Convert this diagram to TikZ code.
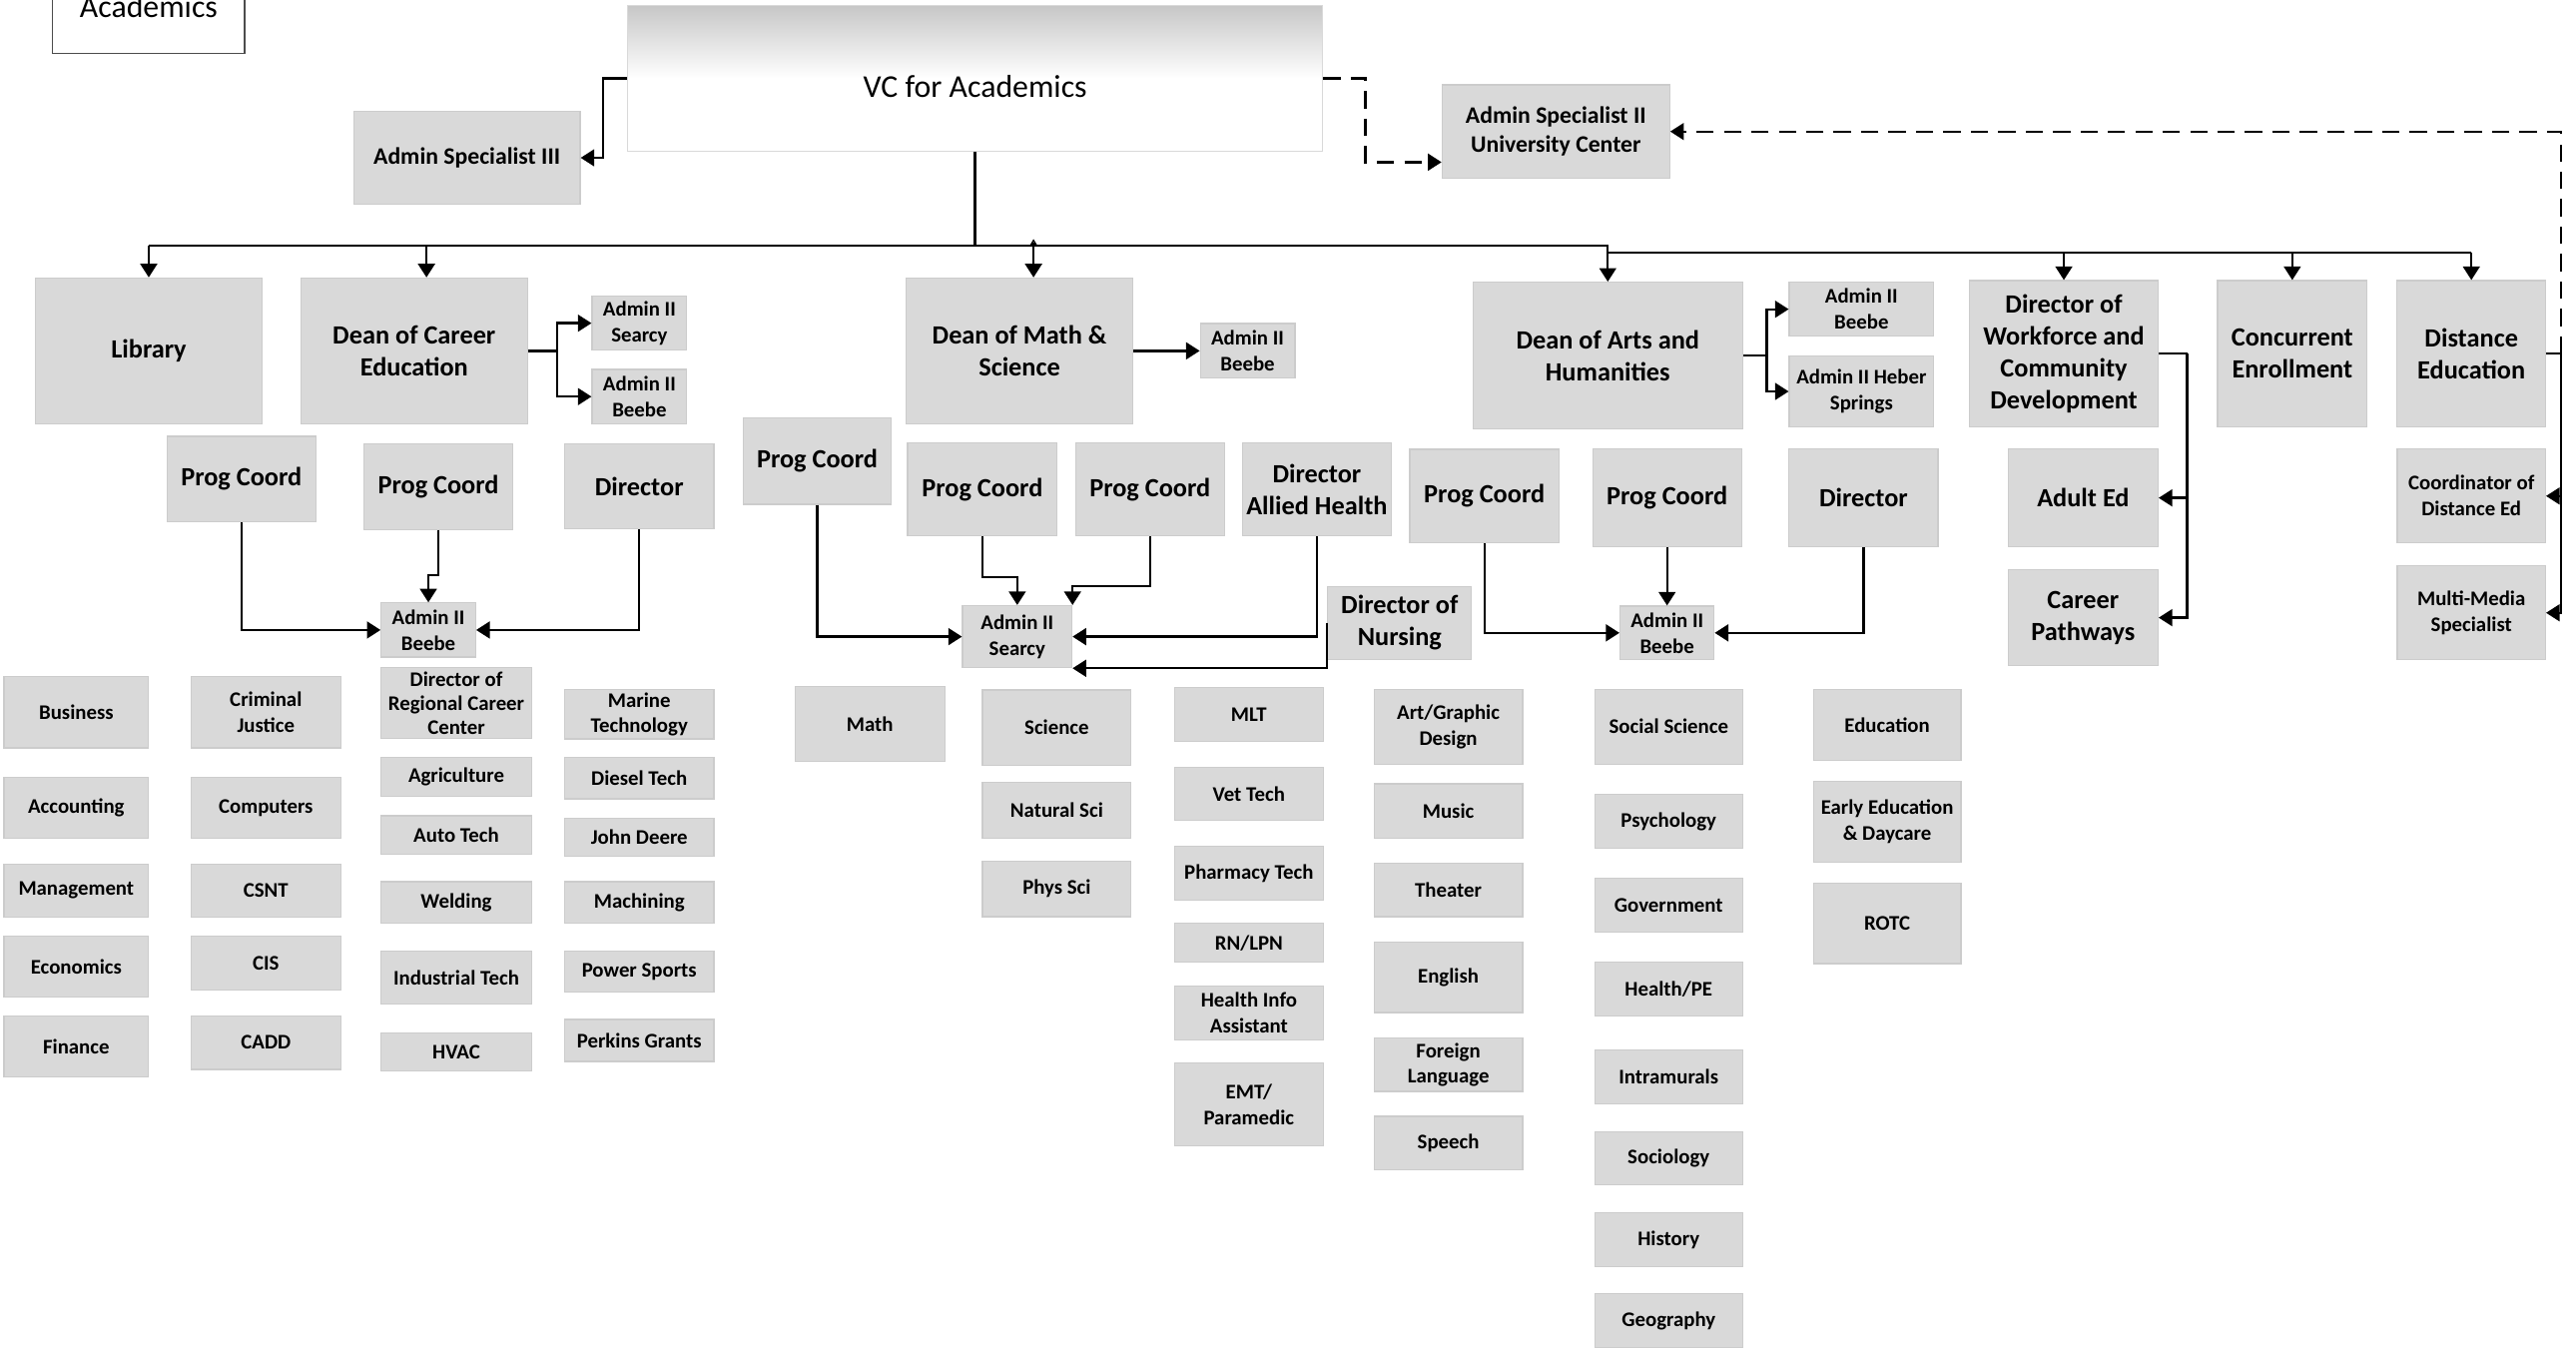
\documentclass[tikz,border=0pt]{standalone}
\usepackage{fontspec}
\setmainfont{Carlito}
\usetikzlibrary{arrows.meta}

\definecolor{boxgray}{RGB}{217,217,217}
\definecolor{boxline}{RGB}{204,204,204}

\tikzset{
  orgbox/.style={draw=boxline, fill=boxgray, line width=0.4pt, inner sep=1pt, align=center,
    font=\bfseries\fontsize{9.1}{11}\selectfont},
  leafbox/.style={orgbox, font=\bfseries\fontsize{7.2}{8.8}\selectfont},
  admbox/.style={orgbox, font=\bfseries\fontsize{7.2}{9}\selectfont},
  specbox/.style={orgbox, font=\bfseries\fontsize{8.2}{9.8}\selectfont},
  sz/.style 2 args={minimum width=#1*0.2mm, minimum height=#2*0.2mm},
  wire/.style={draw, line width=0.8pt},
  link/.style={wire, -{Triangle[length=4.7pt,width=5.8pt]}},
  dashlink/.style={link, dash pattern=on 6pt off 3.5pt},
}

\begin{document}
\begin{tikzpicture}[x=0.2mm, y=-0.2mm]
  \useasboundingbox (0,0) rectangle (1568,824);
  \clip (0,0) rectangle (1568,824);

  % top row
  \node[draw=black!70, fill=white, line width=0.5pt, sz={117}{80}, anchor=south] (acad) at (90.5,32.8) {};
  \node[anchor=base, font=\fontsize{11}{13}\selectfont] (acadtxt) at (90.5,10.5) {Academics};
  \node[draw=black!15, line width=0.4pt, top color=black!22, bottom color=white, middle color=white,
    sz={423.3}{88.8}, text height=12.8pt, text depth=0pt, font=\fontsize{11}{13}\selectfont] (vc) at (593.55,47.8) {VC for Academics};
  \node[specbox, sz={137.8}{56.7}] (asp3) at (284.2,96.05) {Admin Specialist III};
  \node[specbox, sz={138.5}{56.7}] (asp2) at (947.05,80.05) {Admin Specialist II\\University Center};

  % deans and directors
  \node[orgbox, sz={137.9}{88.7}] (lib) at (90.55,213.55) {Library};
  \node[orgbox, sz={137.8}{88.7}] (dce) at (252.1,213.55) {Dean of Career\\Education};
  \node[admbox, sz={57.6}{32.8}] (cse) at (389.2,196.7) {Admin II\\Searcy};
  \node[admbox, sz={57.6}{33}] (cbe) at (389.2,241.4) {Admin II\\Beebe};
  \node[orgbox, sz={138.1}{88.7}] (dms) at (620.55,213.55) {Dean of Math \&\\Science};
  \node[admbox, sz={57.6}{33}] (mbe) at (759.4,213.4) {Admin II\\Beebe};
  \node[orgbox, sz={164.3}{89.1}] (dah) at (978.65,216.35) {Dean of Arts and\\Humanities};
  \node[admbox, sz={87.9}{32.8}] (abe) at (1133.05,188.2) {Admin II\\Beebe};
  \node[admbox, sz={87.9}{42.9}] (ahs) at (1133.05,238.25) {Admin II Heber\\Springs};
  \node[orgbox, sz={114.7}{88.9}] (dwf) at (1256.25,215.25) {Director of\\Workforce and\\Community\\Development};
  \node[orgbox, sz={91}{88.9}] (cce) at (1395.3,215.25) {Concurrent\\Enrollment};
  \node[orgbox, sz={90.6}{88.9}] (dde) at (1504.3,215.25) {Distance\\Education};

  % coordinators
  \node[orgbox, sz={90.7}{52.1}] (cpc1) at (146.95,291.65) {Prog Coord};
  \node[orgbox, sz={90.7}{52.1}] (cpc2) at (266.85,296.25) {Prog Coord};
  \node[orgbox, sz={90.8}{52}] (cdir) at (389.1,296) {Director};
  \node[admbox, sz={57.5}{32.9}] (cadm) at (260.75,383.45) {Admin II\\Beebe};
  \node[orgbox, sz={90.3}{52.3}] (mpc0) at (497.45,280.75) {Prog Coord};
  \node[orgbox, sz={91.1}{56.9}] (mpc1) at (597.95,297.85) {Prog Coord};
  \node[orgbox, sz={90.8}{56.9}] (mpc2) at (700,297.85) {Prog Coord};
  \node[orgbox, sz={90.7}{56.9}] (mdah) at (801.55,297.85) {Director\\Allied Health};
  \node[orgbox, sz={87.5}{44.4}] (mdn) at (851.95,379) {Director of\\Nursing};
  \node[admbox, sz={66.6}{37.8}] (madm) at (619.2,387.5) {Admin II\\Searcy};
  \node[orgbox, sz={90.9}{56.9}] (apc1) at (903.55,301.95) {Prog Coord};
  \node[orgbox, sz={90.7}{59.3}] (apc2) at (1014.75,303.05) {Prog Coord};
  \node[orgbox, sz={90.6}{59.3}] (adir) at (1134.3,303.05) {Director};
  \node[admbox, sz={57.3}{32.6}] (aadm) at (1014.75,385.2) {Admin II\\Beebe};
  \node[orgbox, sz={91.2}{59.3}] (wad) at (1268,303.05) {Adult Ed};
  \node[orgbox, sz={91.2}{58.5}] (wcp) at (1268,375.95) {Career\\Pathways};
  \node[admbox, sz={90.2}{57}] (dcoord) at (1504.3,301.9) {Coordinator of\\Distance Ed};
  \node[admbox, sz={90.2}{57}] (dmm) at (1504.3,373) {Multi-Media\\Specialist};

  % career education programs
  \node[leafbox, sz={88}{43.4}] (business) at (46.4,433.5) {Business};
  \node[leafbox, sz={88}{37.4}] (accounting) at (46.4,491.6) {Accounting};
  \node[leafbox, sz={88}{32.5}] (management) at (46.4,542.05) {Management};
  \node[leafbox, sz={88}{37.2}] (economics) at (46.4,588.3) {Economics};
  \node[leafbox, sz={88}{37.2}] (finance) at (46.4,636.9) {Finance};
  \node[leafbox, sz={91.1}{43.4}] (crimjust) at (161.85,433.5) {Criminal\\Justice};
  \node[leafbox, sz={91.1}{37.4}] (computers) at (161.85,491.6) {Computers};
  \node[leafbox, sz={91.1}{32.5}] (csnt) at (161.85,542.05) {CSNT};
  \node[leafbox, sz={91.1}{32.9}] (cis) at (161.85,586.15) {CIS};
  \node[leafbox, sz={91.1}{32.6}] (cadd) at (161.85,634.6) {CADD};
  \node[leafbox, sz={91.3}{43.1}, inner sep=0pt, font=\bfseries\fontsize{7.2}{8.2}\selectfont] (regcenter) at (277.75,427.95) {Director of\\Regional Career\\Center};
  \node[leafbox, sz={91.3}{23.6}] (agri) at (277.75,473) {Agriculture};
  \node[leafbox, sz={91.3}{23.3}] (autotech) at (277.75,508.15) {Auto Tech};
  \node[leafbox, sz={91.3}{25.3}] (welding) at (277.75,549.25) {Welding};
  \node[leafbox, sz={91.3}{32.5}] (indtech) at (277.75,594.95) {Industrial Tech};
  \node[leafbox, sz={91.3}{23.3}] (hvac) at (277.75,640.25) {HVAC};
  \node[leafbox, sz={90.8}{29.5}] (marine) at (389.1,434.75) {Marine\\Technology};
  \node[leafbox, sz={90.8}{25}] (diesel) at (389.1,473.7) {Diesel Tech};
  \node[leafbox, sz={90.8}{23.1}] (deere) at (389.1,509.65) {John Deere};
  \node[leafbox, sz={90.8}{25.3}] (machining) at (389.1,549.25) {Machining};
  \node[leafbox, sz={90.8}{25.2}] (powersports) at (389.1,591.3) {Power Sports};
  \node[leafbox, sz={90.8}{25.5}] (perkins) at (389.1,633.25) {Perkins Grants};

  % math and science programs
  \node[leafbox, sz={91}{45.6}] (math) at (529.5,440.7) {Math};
  \node[leafbox, sz={90.5}{45.7}] (science) at (643.25,442.85) {Science};
  \node[leafbox, sz={90.5}{34.4}] (natsci) at (643.25,493.2) {Natural Sci};
  \node[leafbox, sz={90.5}{33.9}] (physsci) at (643.25,540.95) {Phys Sci};
  \node[leafbox, sz={90.4}{32.9}] (mlt) at (760.2,434.95) {MLT};
  \node[leafbox, sz={90.4}{32.3}] (vettech) at (760.2,483.35) {Vet Tech};
  \node[leafbox, sz={90.4}{32.6}] (pharm) at (760.2,531.6) {Pharmacy Tech};
  \node[leafbox, sz={90.4}{23.6}] (rnlpn) at (760.2,573.9) {RN/LPN};
  \node[leafbox, sz={90.4}{33}] (hinfo) at (760.2,616.4) {Health Info\\Assistant};
  \node[leafbox, sz={90.4}{50.2}] (emt) at (760.2,672.2) {EMT/\\Paramedic};

  % arts and humanities programs
  \node[leafbox, sz={90.4}{45.7}] (artdesign) at (881.6,442.55) {Art/Graphic\\Design};
  \node[leafbox, sz={90.4}{33}] (music) at (881.6,493.6) {Music};
  \node[leafbox, sz={90.4}{32.4}] (theater) at (881.6,541.7) {Theater};
  \node[leafbox, sz={90.4}{43}] (english) at (881.6,594.8) {English};
  \node[leafbox, sz={90.4}{32.3}] (forlang) at (881.6,648.15) {Foreign\\Language};
  \node[leafbox, sz={90.4}{32.6}] (speech) at (881.6,695.8) {Speech};
  \node[leafbox, sz={89.8}{45.4}] (socsci) at (1015.7,442.3) {Social Science};
  \node[leafbox, sz={89.8}{32.5}] (psych) at (1015.7,499.95) {Psychology};
  \node[leafbox, sz={89.8}{32.6}] (govt) at (1015.7,551) {Government};
  \node[leafbox, sz={89.8}{32.6}] (healthpe) at (1015.7,602.1) {Health/PE};
  \node[leafbox, sz={89.8}{32.6}] (intram) at (1015.7,655.4) {Intramurals};
  \node[leafbox, sz={89.8}{32.6}] (sociol) at (1015.7,705) {Sociology};
  \node[leafbox, sz={89.8}{32.6}] (history) at (1015.7,754.6) {History};
  \node[leafbox, sz={89.8}{32.9}] (geog) at (1015.7,803.95) {Geography};
  \node[leafbox, sz={89.8}{43}] (educ) at (1148.7,441.1) {Education};
  \node[leafbox, sz={89.8}{49.2}] (earlyed) at (1148.7,500.1) {Early Education\\\& Daycare};
  \node[leafbox, sz={89.8}{48.8}] (rotc) at (1148.7,562.1) {ROTC};

  % bus from the VC
  \coordinate (busw) at (90.55,149.5);
  \coordinate (busr) at (1504.3,153.6);
  \coordinate (dcein) at ([xshift=1.5mm]dce.north);
  \coordinate (dmsin) at ([xshift=1.71mm]dms.north);
  \coordinate (asp2in) at ([yshift=-3.73mm]asp2.west);
  \draw[wire] (vc.south) -- (vc.south |- busw);
  \draw[wire] (busw) -- (dah.north |- busw) -- (dah.north |- busr) -- (busr);
  \draw[link] (busw) -- (lib.north);
  \draw[link] (dcein |- busw) -- (dcein);
  \draw[wire, {Stealth[open,length=2.5pt,width=3pt]}-{Triangle[length=4.7pt,width=5.8pt]}]
    ([yshift=0.8mm]dmsin |- busw) -- (dmsin);
  \draw[link] (dah.north |- busw) -- (dah.north);
  \draw[link] (dwf.north |- busr) -- (dwf.north);
  \draw[link] (cce.north |- busr) -- (cce.north);
  \draw[link] (busr) -- (dde.north);

  % side links at the top
  \draw[link] (vc.west) -- ++(-14.5,0) |- (asp3.east);
  \draw[dashlink] (vc.east) -- ++(25.6,0) |- (asp2in);
  \draw[wire] (dde.east) -- ++(9.1,0) coordinate (dj);
  \draw[dashlink] (dj) |- (asp2.east);
  \draw[link] (dj) |- (dcoord.east);
  \draw[link] (dj) |- (dmm.east);

  % deans to admins
  \draw[wire] (dce.east) -- ++(17.8,0) coordinate (cj);
  \draw[link] (cj) |- (cse.west);
  \draw[link] (cj) |- (cbe.west);
  \draw[link] (dms.east) -- (dms.east -| mbe.west);
  \draw[wire] (dah.east) -- ++(14.2,0) coordinate (aj);
  \draw[link] (aj) |- (abe.west);
  \draw[link] (aj) |- (ahs.west);
  \draw[wire] (dwf.east) -- ++(17.4,0) coordinate (wj);
  \draw[link] (wj) |- (wad.east);
  \draw[link] (wj) |- (wcp.east);

  % coordinators to admins
  \draw[link] (cpc1.south) |- (cadm.west);
  \draw[link] (cpc2.south) -- ++(0,27.4) -| (cadm.north);
  \draw[link] (cdir.south) |- (cadm.east);
  \draw[link] (mpc0.south) |- (madm.west);
  \draw[link] (mpc1.south) -- ++(0,24.7) -| (madm.north);
  \draw[link] (mpc2.south) -- ++(0,29.9) -| (madm.north east);
  \draw[link] (mdah.south) |- (madm.east);
  \draw[link] (mdn.west) |- (madm.south east);
  \draw[link] (apc1.south) |- (aadm.west);
  \draw[link] (apc2.south) -- (aadm.north);
  \draw[link] (adir.south) |- (aadm.east);
\end{tikzpicture}
\end{document}
